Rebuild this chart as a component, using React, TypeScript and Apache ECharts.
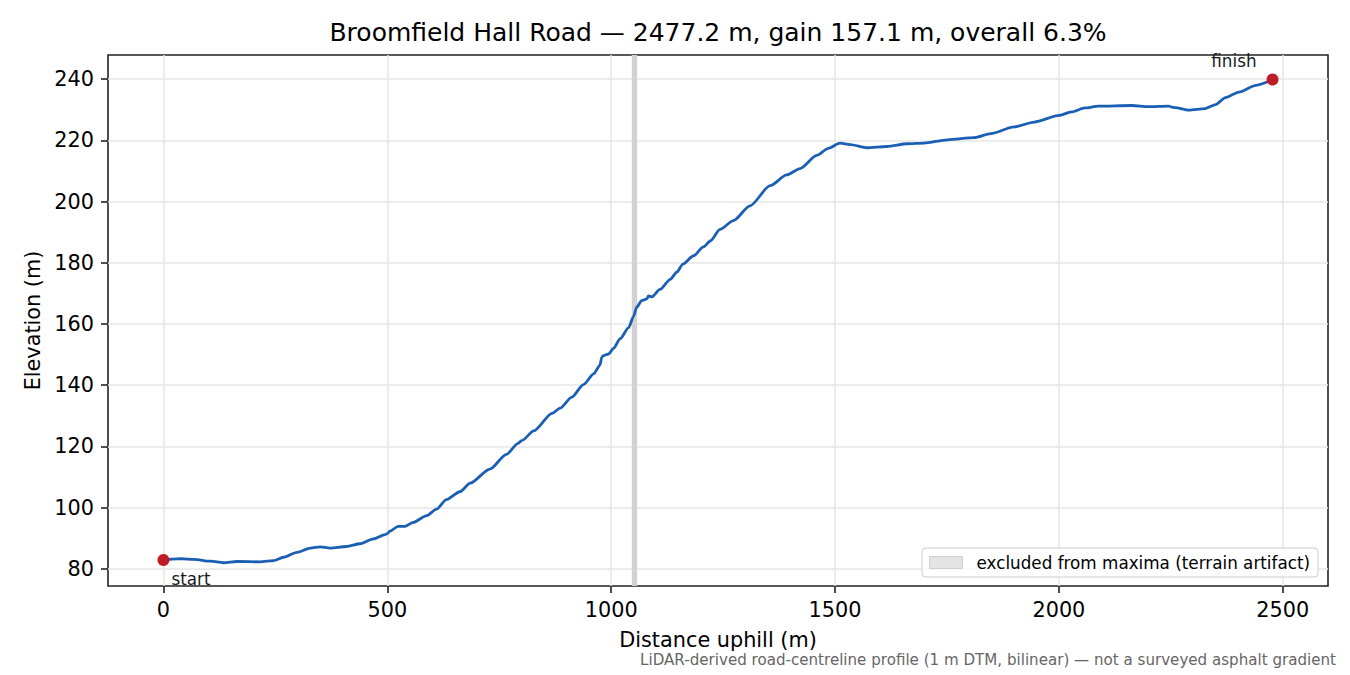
import React, { useEffect, useRef } from 'react';
import * as echarts from 'echarts';

// distance along the road (m) and elevation (m)
const distance = [
  0, 20, 40, 68, 105, 134, 164, 216, 246, 268, 298, 328, 350, 372, 409, 439, 469, 495, 500, 506,
  524, 539, 558, 588, 610, 632, 662, 685, 729, 766, 792, 801, 827, 868, 886, 912, 938, 961, 975, 979,
  983, 994, 1005, 1020, 1039, 1050, 1057, 1068, 1080, 1083, 1091, 1109, 1132, 1147, 1160, 1184, 1206, 1222, 1243, 1273,
  1310, 1355, 1392, 1422, 1459, 1485, 1511, 1534, 1571, 1616, 1661, 1699, 1751, 1811, 1848, 1900, 1945, 2001, 2028, 2058,
  2088, 2163, 2200, 2245, 2252, 2260, 2290, 2327, 2350, 2372, 2402, 2440, 2477.2,
];
const elevation = [
  82.9, 83.2, 83.3, 83.1, 82.5, 82.0, 82.4, 82.3, 82.7, 83.8, 85.4, 86.8, 87.2, 86.8, 87.3, 88.2, 89.8, 91.2, 91.5, 92.3,
  93.9, 93.9, 95.2, 97.4, 99.5, 102.6, 105.2, 108, 112.6, 117.4, 121, 122, 125.1, 130.8, 132.5, 136.1, 140.2, 143.7, 146.6, 149.2,
  149.7, 150.2, 152, 155.2, 158.8, 162.5, 165.5, 167.6, 168.2, 169.2, 168.9, 171.3, 174.6, 177, 179.6, 182.3, 185.2, 187.2, 190.9, 193.8,
  198.6, 205.2, 208.7, 210.8, 215.1, 217.4, 219.1, 218.6, 217.6, 218, 218.9, 219.1, 220.2, 220.9, 222.2, 224.4, 226, 228.2, 229.3, 230.6,
  231.2, 231.4, 231, 231.2, 230.9, 230.7, 229.9, 230.4, 231.7, 234, 235.8, 238, 239.9,
];
const xTicks = [0, 500, 1000, 1500, 2000, 2500];
const yTicks = [80, 100, 120, 140, 160, 180, 200, 220, 240];
const excluded = [1046, 1058];
const endpoints = [
  { name: 'start', value: [0, 82.9] },
  { name: 'finish', value: [2477.2, 239.9] },
];

const FONT = 'DejaVu Sans';
const excludedName = 'excluded from maxima (terrain artifact)';

export default function App() {
  const ref = useRef<HTMLDivElement>(null);
  useEffect(() => {
    document.body.style.margin = '0';
    if (!ref.current) return;
    const chart = echarts.init(ref.current, undefined, { renderer: 'svg' });
    chart.setOption({
      animation: false,
      backgroundColor: '#ffffff',
      textStyle: { fontFamily: FONT },
      title: {
        text: 'Broomfield Hall Road \u2014 2477.2 m, gain 157.1 m, overall 6.3%',
        left: 718,
        top: 20,
        textAlign: 'center',
        padding: 0,
        textStyle: { fontFamily: FONT, fontSize: 25, fontWeight: 'normal', color: '#000' },
      },
      grid: {
        left: 108, right: 22, top: 55, bottom: 89,
        show: true, borderColor: '#222', borderWidth: 1.6, backgroundColor: 'transparent',
      },
      legend: {
        left: 922, top: 548,
        padding: [6, 8, 6, 7],
        itemWidth: 33, itemHeight: 12,
        backgroundColor: 'rgba(255,255,255,0.8)',
        borderColor: '#cccccc', borderWidth: 1, borderRadius: 4,
        textStyle: { fontFamily: FONT, fontSize: 16.8, color: '#000', padding: [0, 0, 0, 9] },
        data: [{ name: excludedName, icon: 'rect', itemStyle: { color: '#e4e4e4', borderColor: '#cfcfcf', borderWidth: 1 } }],
        selectedMode: false,
      },
      xAxis: {
        type: 'value',
        min: -123.86, max: 2601.06,
        splitNumber: 5, minInterval: 500, maxInterval: 500,
        name: 'Distance uphill (m)',
        nameLocation: 'middle', nameGap: 43,
        nameTextStyle: { fontFamily: FONT, fontSize: 20.8, color: '#000' },
        axisLine: { show: false, onZero: false },
        axisTick: { show: true, inside: false, length: 7, lineStyle: { color: '#222', width: 1.6 }, customValues: xTicks },
        axisLabel: {
          margin: 13, fontFamily: FONT, fontSize: 20.8, color: '#000', customValues: xTicks,
          formatter: (v: number) => String(v),
        },
        splitLine: { show: true, lineStyle: { color: '#e6e6e6', width: 1.5 } },
      },
      yAxis: {
        type: 'value',
        min: 74.4, max: 247.9,
        splitNumber: 8, minInterval: 20, maxInterval: 20,
        name: 'Elevation (m)',
        nameLocation: 'middle', nameGap: 62,
        nameTextStyle: { fontFamily: FONT, fontSize: 20.8, color: '#000' },
        axisLine: { show: false, onZero: false },
        axisTick: { show: true, inside: false, length: 7, lineStyle: { color: '#222', width: 1.6 }, customValues: yTicks },
        axisLabel: {
          margin: 14, fontFamily: FONT, fontSize: 20.8, color: '#000', customValues: yTicks,
          formatter: (v: number) => String(v),
        },
        splitLine: { show: true, lineStyle: { color: '#e6e6e6', width: 1.5 } },
      },
      series: [
        {
          name: excludedName,
          type: 'bar',
          data: [],
          itemStyle: { color: '#e4e4e4' },
          markArea: {
            silent: true,
            itemStyle: { color: '#d2d2d2' },
            data: [[{ xAxis: excluded[0] }, { xAxis: excluded[1] }]],
          },
        },
        {
          name: 'profile',
          type: 'line',
          data: distance.map((d, i) => [d, elevation[i]]),
          showSymbol: false,
          symbol: 'none',
          smooth: 0.25,
          smoothMonotone: 'x',
          lineStyle: { color: '#1a5fb4', width: 2.8 },
          z: 3,
        },
        {
          name: 'ends',
          type: 'scatter',
          data: endpoints.map((p) => ({
            name: p.name,
            value: p.value,
            label: p.name === 'start'
              ? { align: 'left', offset: [8, 19] }
              : { align: 'right', offset: [-16, -18] },
          })),
          symbolSize: 12,
          itemStyle: { color: '#c01c28', opacity: 1 },
          label: {
            show: true,
            position: 'inside',
            verticalAlign: 'middle',
            formatter: '{b}',
            fontFamily: FONT,
            fontSize: 16.8,
            color: '#1a1a1a',
          },
          z: 4,
        },
      ],
      graphic: [
        {
          type: 'text',
          x: 1336,
          y: 660,
          style: {
            text: 'LiDAR-derived road-centreline profile (1 m DTM, bilinear) \u2014 not a surveyed asphalt gradient',
            align: 'right',
            verticalAlign: 'middle',
            fontFamily: FONT,
            fontSize: 15.1,
            fill: '#666666',
          },
        },
      ],
    });
    return () => { chart.dispose(); };
  }, []);
  return <div ref={ref} style={{ width: 1350, height: 675 }} />;
}
